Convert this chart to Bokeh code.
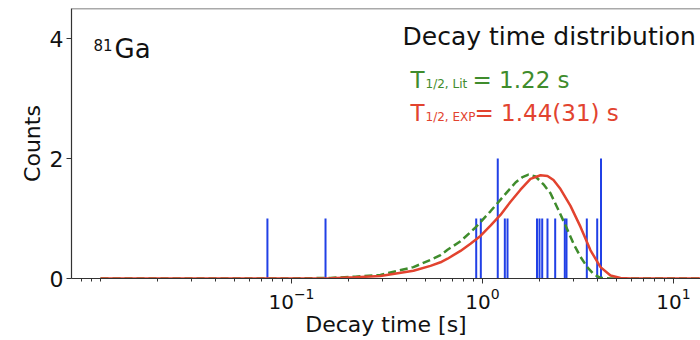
import math
from bokeh.plotting import figure
from bokeh.models import FixedTicker, LogTickFormatter, Label, Span, Range1d
from bokeh.embed import file_html
from bokeh.resources import INLINE

# ---------------- data ----------------
spike_times = [0.0748, 0.1507, 0.927, 0.980, 1.202, 1.309, 1.352, 1.929, 1.988,
               2.054, 2.189, 2.402, 2.697, 2.753, 3.517, 3.986, 4.173]
spike_counts = [1, 1, 1, 1, 2, 1, 1, 1, 1, 1, 1, 1, 1, 1, 1, 1, 2]

lit_t = [0.01, 0.1, 0.160, 0.216, 0.292, 0.435, 0.534, 0.603, 0.656, 0.767,
         0.919, 1.101, 1.320, 1.489, 1.620, 1.741, 1.894, 2.086, 2.270, 2.499,
         2.777, 3.006, 3.260, 3.533, 3.825, 4.147, 4.680, 10.0, 20.0]
lit_counts = [0.0, 0.0, 0.01, 0.03, 0.06, 0.19, 0.31, 0.39, 0.48, 0.62,
              0.85, 1.12, 1.41, 1.60, 1.69, 1.73, 1.70, 1.57, 1.42, 1.14,
              0.82, 0.57, 0.36, 0.19, 0.07, 0.01, 0.0, 0.0, 0.0]

exp_t = [0.01, 0.1, 0.160, 0.216, 0.292, 0.435, 0.534, 0.603, 0.656, 0.767,
         0.865, 0.976, 1.101, 1.242, 1.402, 1.581, 1.784, 2.012, 2.189, 2.353,
         2.561, 2.888, 3.260, 3.676, 4.147, 4.680, 5.279, 5.955, 10.0, 20.0]
exp_counts = [0.0, 0.0, 0.005, 0.02, 0.04, 0.13, 0.21, 0.27, 0.33, 0.46,
              0.58, 0.71, 0.88, 1.06, 1.28, 1.48, 1.66, 1.72, 1.71, 1.64,
              1.49, 1.21, 0.86, 0.47, 0.19, 0.05, 0.01, 0.0, 0.0, 0.0]

x_ticks = [0.1, 1, 10]
y_ticks = [0, 2, 4]

title_text = "Decay time distribution"
nucleus_mass = "81"
nucleus_symbol = "Ga"
lit_sub = "1/2, Lit"
lit_value = "= 1.22 s"
exp_sub = "1/2, EXP"
exp_value = "= 1.44(31) s"
x_label = "Decay time [s]"
y_label = "Counts"

# ---------------- layout ----------------
W, H = 700, 340
FL, FR, FT, FB = 71, 700, 8, 278      # frame edges in pixels
PX0, PXD = 482, 191                   # pixel of 10^0, pixels per decade
X_START = 10 ** ((FL - PX0) / PXD)
X_END = 10 ** ((FR - PX0) / PXD)
Y_START, Y_END = 0.0, 4.5


def dx(px):
    return 10 ** ((px - PX0) / PXD)


def dy(py):
    return (FB - py) * (Y_END - Y_START) / (FB - FT)


FONT = "DejaVu Sans"
GREEN = "#3f8c2c"
RED = "#e2432f"
BLUE = "#2140e6"

p = figure(width=W, height=H, x_axis_type="log",
           x_range=Range1d(X_START, X_END), y_range=Range1d(Y_START, Y_END),
           output_backend="svg", toolbar_location=None,
           min_border_left=FL, min_border_right=W - FR,
           min_border_top=FT, min_border_bottom=H - FB)
p.background_fill_color = "white"
p.border_fill_color = "white"
p.outline_line_color = None
p.xgrid.visible = False
p.ygrid.visible = False

# top border line only (right side is cut off in the reference)
p.add_layout(Span(location=Y_END, dimension="width", line_color="#555555", line_width=1.5))

minor = [m * 10.0 ** e for e in range(-3, 2) for m in range(1, 10) if not (m == 1 and e >= -1)]
p.xaxis.ticker = FixedTicker(ticks=x_ticks, minor_ticks=minor)
p.xaxis.formatter = LogTickFormatter()
p.yaxis.ticker = FixedTicker(ticks=y_ticks)

for ax in (p.xaxis[0], p.yaxis[0]):
    ax.axis_line_color = "#333333"
    ax.axis_line_width = 1.2
    ax.major_tick_line_color = "#333333"
    ax.minor_tick_line_color = "#333333"
    ax.major_tick_in = 0
    ax.major_tick_out = 5
    ax.minor_tick_in = 0
    ax.minor_tick_out = 3
    ax.major_label_text_font = FONT
    ax.major_label_text_color = "#111111"
    ax.major_label_standoff = 4
    ax.axis_label_text_font = FONT
    ax.axis_label_text_font_style = "normal"
    ax.axis_label_text_color = "#111111"
    ax.axis_label_text_font_size = "22px"
p.xaxis.major_label_text_font_size = "20px"
p.yaxis.major_label_text_font_size = "22px"
p.yaxis.minor_tick_line_color = None
p.yaxis.major_label_standoff = 3
p.xaxis.axis_label = x_label
p.xaxis.axis_label_standoff = 0
p.yaxis.axis_label = y_label
p.yaxis.axis_label_standoff = 2

# histogram spikes
p.segment(x0=spike_times, y0=[0] * len(spike_times), x1=spike_times, y1=spike_counts,
          line_color=BLUE, line_width=2)
# model curves
p.line(lit_t, lit_counts, line_color=GREEN, line_width=2.5, line_dash="8 4")
p.line(exp_t, exp_counts, line_color=RED, line_width=2.5)


def label(text, px, py, size, color="#111111", align="left"):
    # compensate for the baseline offset Bokeh's Label applies
    py = py - 0.35 * size
    p.add_layout(Label(x=dx(px), y=dy(py), text=text, text_font=FONT,
                       text_font_size=f"{size}px", text_color=color,
                       text_align=align, text_baseline="alphabetic"))


label(nucleus_mass, 93, 50, 15)
label(nucleus_symbol, 114, 58, 26)
label(title_text, 402, 45, 25)
label("T", 410, 88, 23, GREEN)
label(lit_sub, 425, 88, 12, GREEN)
label(lit_value, 472, 88, 23, GREEN)
label("T", 410, 121, 23, RED)
label(exp_sub, 425, 121, 12, RED)
label(exp_value, 474, 121, 23, RED)

open("out.html", "w").write(file_html(p, INLINE))
